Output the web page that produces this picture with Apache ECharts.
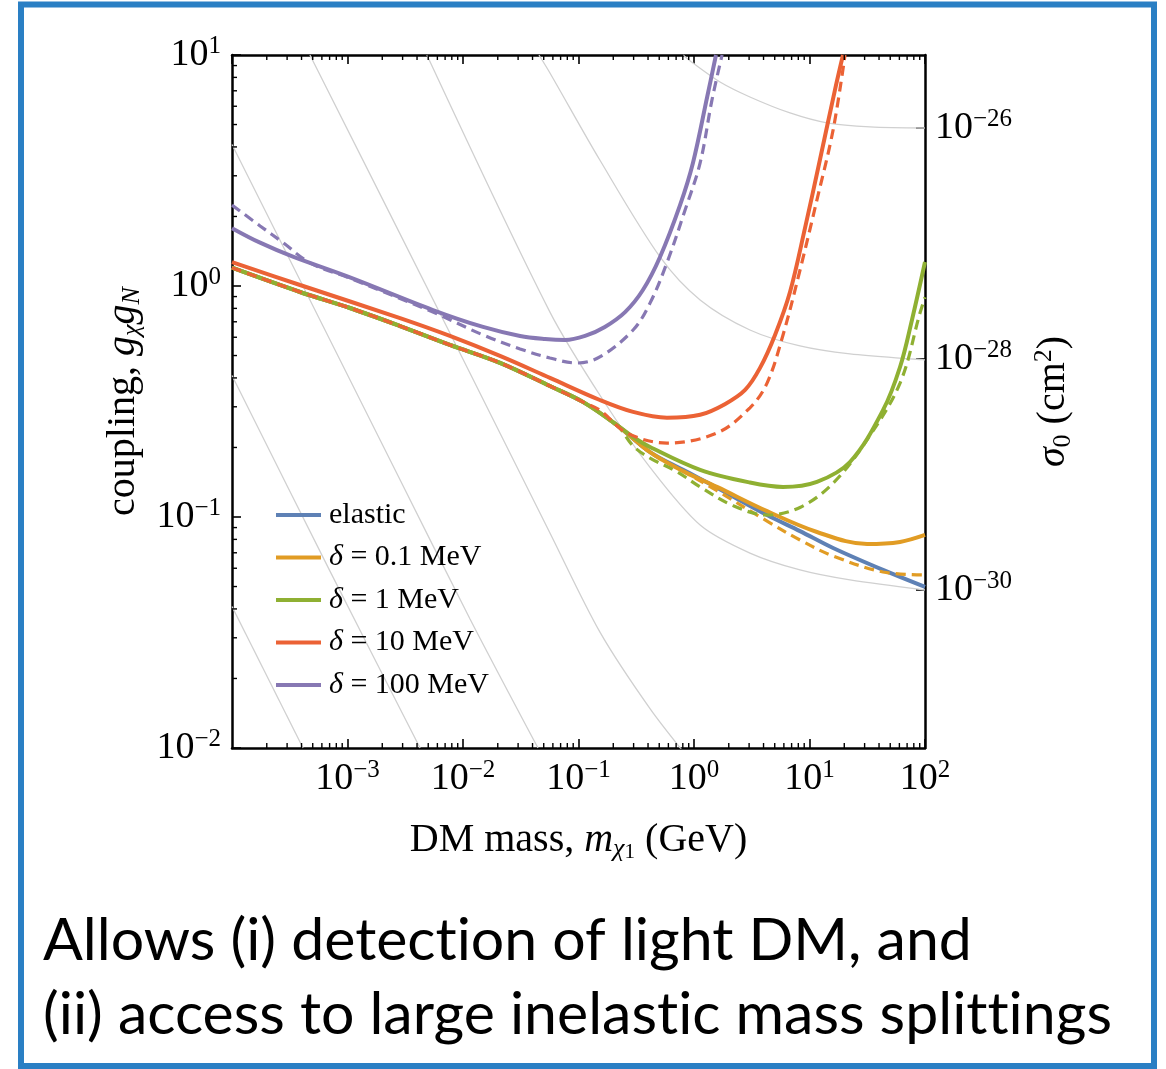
<!DOCTYPE html>
<html><head><meta charset="utf-8">
<script src="https://cdn.jsdelivr.net/npm/echarts@6/dist/echarts.min.js"></script>
<style>html,body{margin:0;padding:0;background:#fff}#c{width:1166px;height:1069px}</style>
</head><body><div id="c"></div>
<script>
// ---------- data (m in GeV, g dimensionless) ----------
const massRange = [1e-4, 100];
const couplingRange = [0.01, 10];
const sigmaRange = [4.29e-32, 4.29e-26];      // right axis, cm^2 (matches g range)
const seriesNames = ['elastic', 'δ = 0.1 MeV', 'δ = 1 MeV', 'δ = 10 MeV', 'δ = 100 MeV'];
const seriesColors = ['#5E81B5', '#E19C24', '#8FB032', '#EB6235', '#8778B3'];

const commonBranch = [[1e-4,1.20],[3.88e-4,0.942],[1.05e-3,0.803],[2.85e-3,0.671],[7.7e-3,0.556],[0.0209,0.465],[0.0566,0.369],[0.109,0.315],[0.215,0.250]];
const elasticTail = [[0.416,0.191],[0.804,0.160],[1.58,0.134],[4.29,0.102],[8.27,0.0869],[16.0,0.0734],[43.3,0.0590],[100,0.0498]];
const orangeSolidTail = [[0.416,0.191],[0.804,0.158],[1.58,0.135],[4.29,0.106],[11.6,0.0861],[31.5,0.0764],[60.8,0.0780],[100,0.0836]];
const orangeDashedTail = [[0.416,0.190],[0.804,0.158],[1.58,0.130],[4.29,0.0960],[8.27,0.0795],[16.0,0.0678],[43.3,0.0578],[100,0.0561]];
const greenSolidTail = [[0.297,0.222],[0.416,0.201],[1.13,0.160],[3.05,0.141],[5.90,0.135],[11.6,0.142],[22.4,0.173],[43.3,0.290],[60.8,0.446],[77.1,0.713],[100,1.27]];
const greenDashedTail = [[0.297,0.203],[0.416,0.180],[0.713,0.157],[1.13,0.135],[2.18,0.112],[4.29,0.102],[8.27,0.110],[16.0,0.140],[31.5,0.216],[60.8,0.380],[90.5,0.764],[100,0.895]];
const redSolid = [[1e-4,1.27],[3.88e-4,1.01],[2.85e-3,0.726],[7.7e-3,0.608],[0.0209,0.498],[0.0566,0.400],[0.153,0.321],[0.297,0.285],[0.583,0.269],[1.13,0.277],[1.85,0.308],[2.77,0.355],[3.73,0.442],[5.03,0.614],[6.78,0.942],[9.14,1.78],[12.3,3.51],[16.6,7.05],[19.5,10]];
const redDashedHead = [[1e-4,1.20],[3.88e-4,0.942],[1.05e-3,0.803],[2.85e-3,0.671],[7.7e-3,0.556],[0.0209,0.465],[0.0566,0.369],[0.109,0.315]];
const redDashedTail = [[0.153,0.290],[0.263,0.231],[0.583,0.209],[1.58,0.231],[3.05,0.297],[4.29,0.380],[5.90,0.614],[8.27,1.17],[11.6,2.36],[16.0,4.73],[20.3,10]];
const purpleSolid = [[1e-4,1.78],[1.75e-4,1.54],[3.37e-4,1.34],[1.05e-3,1.09],[5.49e-3,0.787],[0.0149,0.665],[0.0312,0.608],[0.0513,0.590],[0.0764,0.584],[0.114,0.608],[0.169,0.665],[0.253,0.771],[0.361,0.961],[0.508,1.336],[0.757,2.24],[0.979,3.41],[1.30,6.58],[1.55,10]];
const purpleDashed = [[1e-4,2.24],[1.75e-4,1.82],[2.77e-4,1.54],[4.73e-4,1.26],[1.05e-3,1.08],[5.49e-3,0.771],[0.0149,0.614],[0.0312,0.534],[0.0566,0.488],[0.0970,0.464],[0.153,0.493],[0.297,0.645],[0.416,0.843],[0.583,1.26],[0.836,2.13],[1.13,3.41],[1.43,6.38],[1.75,10]];

// light gray reference contours (constant cross-section)
const grayA = [[0.804,10],[0.979,9.23],[1.68,7.64],[3.05,6.58],[6.78,5.61],[14.2,5.08],[33.4,4.88],[100,4.83]];
const grayB = [[0.0455,10],[0.0566,8.36],[0.153,3.51],[0.508,1.336],[1.13,0.870],[3.05,0.645],[8.27,0.550],[22.4,0.508],[100,0.479]];
const grayC = [[4.87e-3,10],[0.0566,0.771],[0.163,0.321],[0.416,0.164],[1.13,0.0923],[3.05,0.0698],[8.27,0.0590],[22.4,0.0534],[100,0.0483]];
const grayD = [[4.73e-4,10],[7.7e-3,0.626],[0.0566,0.0853],[0.153,0.0318],[0.416,0.0148],[0.923,0.00887]];
const grayE = [[1e-4,4.1],[2.85e-3,0.145],[0.0115,0.0362],[0.0446,0.01]];
const grayF = [[1e-4,0.41],[7.05e-4,0.0583],[4.25e-3,0.01]];
const grayG = [[1e-4,0.041],[4.12e-4,0.01]];

// minor tick positions
const minorMultipliers = [2,3,4,5,6,7,8,9];
const xDecades = [1e-4,1e-3,1e-2,1e-1,1,10];
const yDecades = [0.01,0.1,1];

const captionLines = ['Allows (i) detection of light DM, and', '(ii) access to large inelastic mass splittings'];

// ---------- chart ----------
const SERIF = 'Liberation Serif';
const xMinor = [], yMinor = [];
xDecades.forEach(d => minorMultipliers.forEach(k => xMinor.push([d * k, couplingRange[0]])));
yDecades.forEach(d => minorMultipliers.forEach(k => yMinor.push([massRange[0], d * k])));

function powLabel(v) {
  const e = Math.round(Math.log10(v));
  return '{b|10}{s|' + (e < 0 ? '\u2212' + (-e) : e) + '}';
}
// break "ti"/"tt" ligatures so the sans caption looks like the original slide font
const noLig = (s) => s.replace(/t(?=[it])/g, 't\u200C');

const tickRich = {
  b: {fontFamily: SERIF, fontSize: 38, color: '#000'},
  s: {fontFamily: SERIF, fontSize: 25, color: '#000', padding: [0, 0, 17, 0]}
};
const TF = 40;
const titleRich = {
  t: {fontFamily: SERIF, fontSize: TF, color: '#000'},
  i: {fontFamily: SERIF, fontSize: TF, fontStyle: 'italic', color: '#000'},
  sub: {fontFamily: SERIF, fontSize: 26, fontStyle: 'italic', color: '#000', padding: [19, 0, 0, 0]},
  subr: {fontFamily: SERIF, fontSize: 26, color: '#000', padding: [19, 0, 0, 0]},
  sub2: {fontFamily: SERIF, fontSize: 21, color: '#000', padding: [25, 0, 0, 0]},
  sup: {fontFamily: SERIF, fontSize: 26, color: '#000', padding: [0, 0, 18, 0]}
};
const axisLineStyle = {show: true, lineStyle: {color: '#000', width: 2.5}};
const majorTick = {show: true, inside: true, length: 9, lineStyle: {color: '#000', width: 1.6}};

const gray = (data) => ({type: 'line', data: data, symbol: 'none', smooth: 0.3, silent: true,
  lineStyle: {color: '#d0d0d0', width: 1.3}, z: 1});
const curve = (name, data, color, dashed) => ({type: 'line', name: name, data: data, symbol: 'none', smooth: 0.35,
  lineStyle: {color: color, width: dashed ? 3.2 : 4, type: dashed ? [10, 6] : 'solid'}, itemStyle: {color: color}, z: 3});

const chart = echarts.init(document.getElementById('c'), null, {renderer: 'canvas'});
chart.setOption({
  animation: false,
  backgroundColor: '#fff',
  grid: {left: 232, top: 55, width: 693, height: 693, outerBoundsMode: 'none'},
  xAxis: [{
    type: 'log', logBase: 10, min: massRange[0], max: massRange[1], position: 'bottom',
    axisLine: axisLineStyle, axisTick: majorTick, splitLine: {show: false},
    axisLabel: {formatter: powLabel, rich: tickRich, margin: 10, showMinLabel: false},
    name: '{t|DM mass, }{i|m}{sub|χ}{sub2|1}{t| (GeV)}', nameLocation: 'middle', nameGap: 69,
    nameTextStyle: {fontFamily: SERIF, fontSize: TF, color: '#000', rich: titleRich}
  }, {
    type: 'log', logBase: 10, min: massRange[0], max: massRange[1], position: 'top',
    axisLine: axisLineStyle, axisTick: majorTick, splitLine: {show: false}, axisLabel: {show: false}
  }],
  yAxis: [{
    type: 'log', logBase: 10, min: couplingRange[0], max: couplingRange[1], position: 'left',
    axisLine: axisLineStyle, axisTick: majorTick, splitLine: {show: false},
    axisLabel: {formatter: powLabel, rich: tickRich, margin: 11},
    name: '{t|coupling, }{i|g}{sub|χ}{i|g}{sub|N}', nameLocation: 'middle', nameGap: 80, nameRotate: 90,
    nameTextStyle: {fontFamily: SERIF, fontSize: TF, color: '#000', rich: titleRich}
  }, {
    type: 'log', logBase: 100, min: sigmaRange[0], max: sigmaRange[1], position: 'right',
    axisLine: axisLineStyle, axisTick: majorTick, splitLine: {show: false},
    axisLabel: {formatter: powLabel, rich: tickRich, margin: 10, showMinLabel: false, showMaxLabel: false},
    name: '{i|σ}{subr|0}{t| (cm}{sup|2}{t|)}', nameLocation: 'middle', nameGap: 106, nameRotate: 90,
    nameTextStyle: {fontFamily: SERIF, fontSize: TF, color: '#000', rich: titleRich}
  }],
  legend: {
    data: seriesNames, orient: 'vertical', left: 271, top: 495, icon: 'rect',
    itemWidth: 45, itemHeight: 4, itemGap: 12.5, selectedMode: false,
    formatter: (n) => n.startsWith('δ') ? '{i|δ}{t|' + n.slice(1) + '}' : '{t|' + n + '}',
    textStyle: {fontFamily: SERIF, fontSize: 30, color: '#000', lineHeight: 30, padding: [0, 0, 0, 3], rich: {
      t: {fontFamily: SERIF, fontSize: 30, color: '#000'},
      i: {fontFamily: SERIF, fontSize: 30, fontStyle: 'italic', color: '#000'}
    }}
  },
  series: [
    gray(grayA), gray(grayB), gray(grayC), gray(grayD), gray(grayE), gray(grayF), gray(grayG),
    curve(seriesNames[0], commonBranch.concat(elasticTail), seriesColors[0], false),
    curve(seriesNames[1], commonBranch.concat(orangeSolidTail), seriesColors[1], false),
    curve('orange dashed', commonBranch.concat(orangeDashedTail), seriesColors[1], true),
    curve(seriesNames[2], commonBranch.concat(greenSolidTail), seriesColors[2], false),
    curve('green dashed', commonBranch.concat(greenDashedTail), seriesColors[2], true),
    curve(seriesNames[3], redSolid, seriesColors[3], false),
    curve('red dashed', redDashedHead.concat(redDashedTail), seriesColors[3], true),
    curve(seriesNames[4], purpleSolid, seriesColors[4], false),
    curve('purple dashed', purpleDashed, seriesColors[4], true),
    {type: 'custom', silent: true, data: xMinor, z: 5, renderItem: (p, api) => {
      const b = api.coord([api.value(0), couplingRange[0]]);
      const t = api.coord([api.value(0), couplingRange[1]]);
      const st = {stroke: '#000', lineWidth: 1.4};
      return {type: 'group', children: [
        {type: 'line', shape: {x1: b[0], y1: b[1], x2: b[0], y2: b[1] - 5}, style: st},
        {type: 'line', shape: {x1: t[0], y1: t[1], x2: t[0], y2: t[1] + 5}, style: st}
      ]};
    }},
    {type: 'custom', silent: true, data: yMinor, z: 5, renderItem: (p, api) => {
      const l = api.coord([massRange[0], api.value(1)]);
      return {type: 'line', shape: {x1: l[0], y1: l[1], x2: l[0] + 5, y2: l[1]}, style: {stroke: '#000', lineWidth: 1.4}};
    }}
  ],
  graphic: [
    {type: 'rect', shape: {x: 21, y: 4.5, width: 1133, height: 1061.5}, style: {fill: 'none', stroke: '#2a7fc4', lineWidth: 6}, z: 10},
    {type: 'text', left: 43, top: 911, style: {text: noLig(captionLines[0]), font: '59px Lato', fill: '#000'}},
    {type: 'text', left: 43, top: 985, style: {text: noLig(captionLines[1]), font: '59px Lato', fill: '#000'}}
  ]
});
</script></body></html>
